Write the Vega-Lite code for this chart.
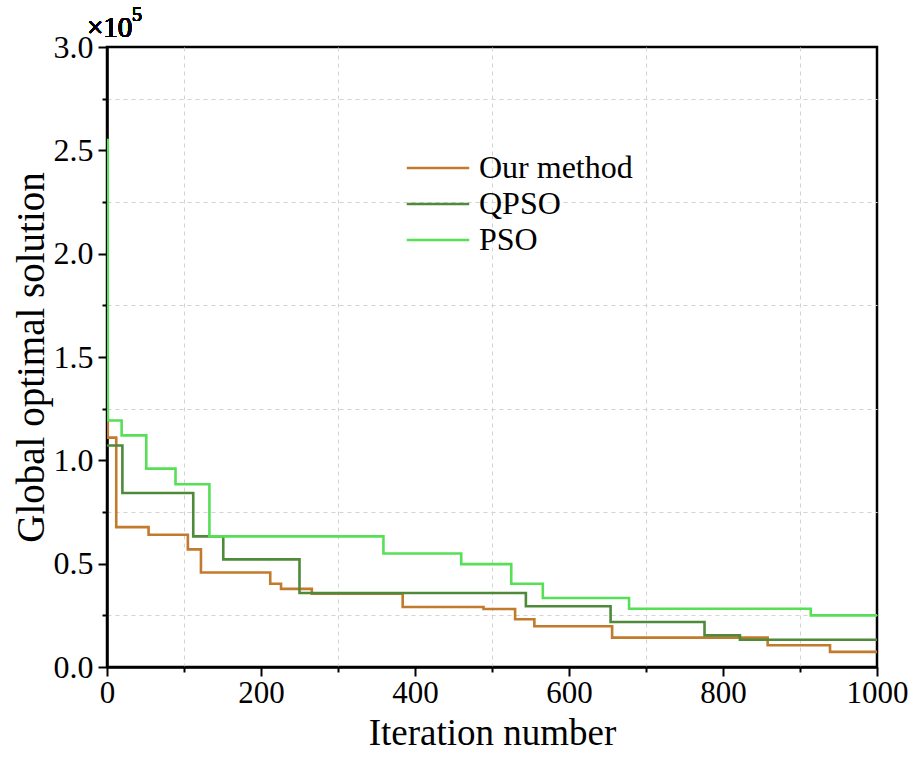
{
  "$schema": "https://vega.github.io/schema/vega-lite/v6.json",
  "autosize": {"type": "none"},
  "width": 770,
  "height": 620,
  "padding": {"left": 107, "top": 47, "right": 36, "bottom": 93},
  "background": "white",
  "config": {
    "view": {"stroke": "black", "strokeWidth": 2.5},
    "font": "Liberation Serif",
    "axis": {
      "labelFont": "Liberation Serif",
      "titleFont": "Liberation Serif",
      "labelColor": "black",
      "titleColor": "black",
      "titleFontWeight": "normal",
      "domainColor": "black",
      "domainWidth": 2.5,
      "tickColor": "black",
      "tickWidth": 2,
      "gridColor": "#d2d2d2",
      "gridDash": [4, 4],
      "gridWidth": 1
    }
  },
  "data": {
    "values": [
      {"method": "Our method", "iter": 0, "value": 127400},
      {"method": "Our method", "iter": 1, "value": 111000},
      {"method": "Our method", "iter": 12, "value": 67700},
      {"method": "Our method", "iter": 54, "value": 64000},
      {"method": "Our method", "iter": 105, "value": 56900},
      {"method": "Our method", "iter": 122, "value": 45700},
      {"method": "Our method", "iter": 212, "value": 40300},
      {"method": "Our method", "iter": 226, "value": 37800},
      {"method": "Our method", "iter": 266, "value": 35500},
      {"method": "Our method", "iter": 384, "value": 29000},
      {"method": "Our method", "iter": 489, "value": 28100},
      {"method": "Our method", "iter": 530, "value": 23100},
      {"method": "Our method", "iter": 555, "value": 19700},
      {"method": "Our method", "iter": 656, "value": 14200},
      {"method": "Our method", "iter": 858, "value": 10500},
      {"method": "Our method", "iter": 939, "value": 7300},
      {"method": "Our method", "iter": 1000, "value": 7300},
      {"method": "QPSO", "iter": 0, "value": 107200},
      {"method": "QPSO", "iter": 20, "value": 84200},
      {"method": "QPSO", "iter": 112, "value": 63200},
      {"method": "QPSO", "iter": 151, "value": 52100},
      {"method": "QPSO", "iter": 250, "value": 35800},
      {"method": "QPSO", "iter": 544, "value": 29400},
      {"method": "QPSO", "iter": 654, "value": 21800},
      {"method": "QPSO", "iter": 776, "value": 15300},
      {"method": "QPSO", "iter": 822, "value": 13200},
      {"method": "QPSO", "iter": 1000, "value": 13200},
      {"method": "PSO", "iter": 0, "value": 255000},
      {"method": "PSO", "iter": 1, "value": 119300},
      {"method": "PSO", "iter": 19, "value": 112100},
      {"method": "PSO", "iter": 51, "value": 96000},
      {"method": "PSO", "iter": 89, "value": 88400},
      {"method": "PSO", "iter": 133, "value": 63200},
      {"method": "PSO", "iter": 359, "value": 54900},
      {"method": "PSO", "iter": 460, "value": 49800},
      {"method": "PSO", "iter": 525, "value": 40300},
      {"method": "PSO", "iter": 566, "value": 33400},
      {"method": "PSO", "iter": 678, "value": 28200},
      {"method": "PSO", "iter": 914, "value": 25000},
      {"method": "PSO", "iter": 1000, "value": 25000}
    ]
  },
  "layer": [
    {
      "mark": {"type": "line", "interpolate": "step-after", "strokeWidth": 2.6, "clip": true},
      "encoding": {
        "x": {
          "field": "iter", "type": "quantitative",
          "scale": {"domain": [0, 1000], "nice": false, "zero": false},
          "axis": {
            "title": "Iteration number",
            "titleFontSize": 37,
            "titlePadding": 7,
            "labelFontSize": 31,
            "labelPadding": 2,
            "values": [0, 100, 200, 300, 400, 500, 600, 700, 800, 900, 1000],
            "labelExpr": "datum.value % 200 == 0 ? datum.label : ''",
            "format": "d",
            "tickSize": {"condition": {"test": "datum.value % 200 == 0", "value": 9}, "value": 5},
            "grid": true,
            "gridOpacity": {"condition": {"test": "datum.value % 200 == 100 && datum.value > 0", "value": 1}, "value": 0},
            "labelFlush": false
          }
        },
        "y": {
          "field": "value", "type": "quantitative",
          "scale": {"domain": [0, 300000], "nice": false},
          "axis": {
            "title": "Global optimal solution",
            "titleFontSize": 39,
            "titlePadding": 2,
            "labelFontSize": 32,
            "labelPadding": 5,
            "values": [0, 25000, 50000, 75000, 100000, 125000, 150000, 175000, 200000, 225000, 250000, 275000, 300000],
            "labelExpr": "datum.value % 50000 == 0 ? format(datum.value / 100000, '.1f') : ''",
            "tickSize": {"condition": {"test": "datum.value % 50000 == 0", "value": 9}, "value": 5},
            "grid": true,
            "gridOpacity": {"condition": {"test": "datum.value % 50000 == 25000", "value": 1}, "value": 0},
            "labelFlush": false
          }
        },
        "color": {
          "field": "method", "type": "nominal",
          "sort": ["Our method", "QPSO", "PSO"],
          "scale": {"domain": ["Our method", "QPSO", "PSO"], "range": ["#C27A2C", "#4E8A3A", "#55E055"]},
          "legend": {
            "title": null,
            "orient": "none",
            "legendX": 298,
            "legendY": 103,
            "symbolType": "stroke",
            "symbolSize": 3900,
            "symbolStrokeWidth": 2.6,
            "clipHeight": 36,
            "labelFont": "Liberation Serif",
            "labelFontSize": 32,
            "labelColor": "black",
            "rowPadding": 0,
            "labelOffset": 8
          }
        }
      }
    },
    {
      "mark": {"type": "text", "align": "left", "baseline": "alphabetic", "dx": -20, "dy": -10, "fontSize": 29, "font": "Liberation Serif", "color": "black"},
      "encoding": {
        "x": {"datum": 0},
        "y": {"datum": 300000},
        "text": {"value": "×10"}
      }
    },
    {
      "mark": {"type": "text", "align": "left", "baseline": "alphabetic", "dx": 25, "dy": -26, "fontSize": 20, "font": "Liberation Serif", "color": "black"},
      "encoding": {
        "x": {"datum": 0},
        "y": {"datum": 300000},
        "text": {"value": "5"}
      }
    }
  ]
}
